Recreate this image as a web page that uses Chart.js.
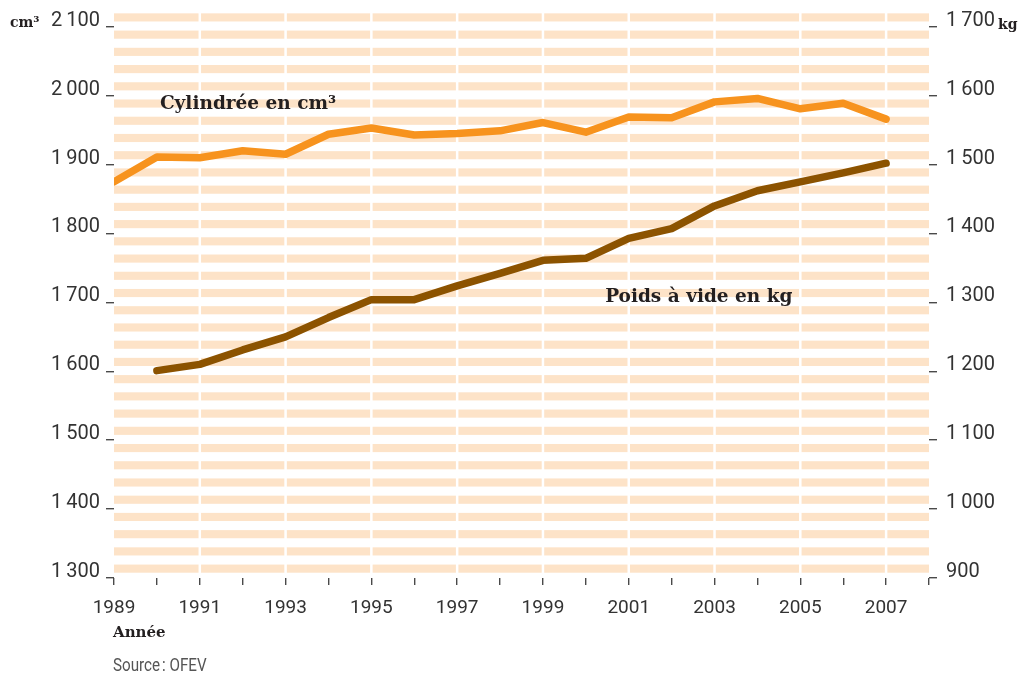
<!DOCTYPE html>
<html lang="fr">
<head>
<meta charset="utf-8">
<title>Cylindrée et poids à vide</title>
<script src="https://cdn.jsdelivr.net/npm/chart.js@4.4.1/dist/chart.umd.min.js"></script>
<style>
  html, body { margin: 0; padding: 0; background: #fff; }
  #wrap { width: 1021px; height: 675px; }
</style>
</head>
<body>
<div id="wrap"><canvas id="chart" width="1021" height="675"></canvas></div>
<script>
// Data
const years = [1989, 1990, 1991, 1992, 1993, 1994, 1995, 1996, 1997, 1998,
               1999, 2000, 2001, 2002, 2003, 2004, 2005, 2006, 2007];
const cylindree = [1875, 1911, 1910, 1920, 1915, 1944, 1953, 1943, 1945, 1949,
                   1961, 1947, 1969, 1968, 1991, 1996, 1981, 1989, 1966];
const poidsYears = [1990, 1991, 1992, 1993, 1994, 1995, 1996, 1997, 1998,
                    1999, 2000, 2001, 2002, 2003, 2004, 2005, 2006, 2007];
const poids = [1201, 1210, 1231, 1250, 1278, 1304, 1304, 1324, 1342,
               1361, 1364, 1393, 1407, 1440, 1462, 1475, 1488, 1502];
const leftTicks = [1300, 1400, 1500, 1600, 1700, 1800, 1900, 2000, 2100];
const rightTicks = [900, 1000, 1100, 1200, 1300, 1400, 1500, 1600, 1700];
const yearLabels = [1989, 1991, 1993, 1995, 1997, 1999, 2001, 2003, 2005, 2007];

const ORANGE = "#F7931E";
const BROWN = "#8C5300";
const STRIPE = "#FDE3C8";
const TEXT = "#333333";
const TICK = "#4a4a4a";
const SERIF = "'DejaVu Serif', serif";
const SANS = "Roboto, 'Liberation Sans', sans-serif";

// 2 100 style numbers
function fmt(v) {
  const s = String(v);
  return s.length > 3 ? s.slice(0, -3) + "\u2009" + s.slice(-3) : s;
}

// keep the plot area where we put it, no auto padding from labels
function noPad(s) {
  s.paddingTop = 0;
  s.paddingBottom = 0;
  s.paddingLeft = 0;
  s.paddingRight = 0;
}

// peach bands behind the plot, 4 per 100 units, plus white column gaps
const bandsPlugin = {
  id: "bands",
  beforeDatasetsDraw(chart) {
    const { ctx, chartArea: a, scales } = chart;
    const y = scales.yL;
    const x = scales.x;
    ctx.save();
    ctx.fillStyle = STRIPE;
    for (let k = 0; k <= 32; k++) {
      const top = 2119.5 - 25 * k;
      const y0 = y.getPixelForValue(top);
      const y1 = y.getPixelForValue(top - 11.8);
      ctx.fillRect(a.left, y0, a.right - a.left, y1 - y0);
    }
    ctx.fillStyle = "#ffffff";
    yearLabels.forEach((yr) => {
      if (yr === 1989) return;
      const px = x.getPixelForValue(yr);
      ctx.fillRect(px - 1.25, a.top, 2.5, a.bottom - a.top);
    });
    ctx.restore();
  },
};

// texts that are not axis labels
const textPlugin = {
  id: "texts",
  afterDraw(chart) {
    const { ctx, scales } = chart;
    ctx.save();
    ctx.fillStyle = "#231F20";
    ctx.textBaseline = "middle";
    ctx.textAlign = "left";

    ctx.font = "bold 18.5px " + SERIF;
    ctx.fillText("Cylindrée en cm³", scales.x.getPixelForValue(1990.07),
      scales.yL.getPixelForValue(1988));
    ctx.fillText("Poids à vide en kg", scales.x.getPixelForValue(2000.45),
      scales.yR.getPixelForValue(1308));

    ctx.font = "bold 14px " + SERIF;
    ctx.fillText("cm³", 10, 23);
    ctx.fillText("kg", 998, 25);
    ctx.font = "bold 15px " + SERIF;
    ctx.fillText("Année", 113, 633);

    // condensed source line
    ctx.font = "19px " + SANS;
    ctx.fillStyle = "#555555";
    ctx.translate(113, 666);
    ctx.scale(0.8, 1);
    ctx.fillText("Source\u202F: OFEV", 0, 0);
    ctx.restore();
  },
};

const tickGrid = {
  display: true,
  drawOnChartArea: false,
  drawTicks: true,
  color: TICK,
  lineWidth: 1.4,
};

const ctx = document.getElementById("chart").getContext("2d");
new Chart(ctx, {
  type: "line",
  data: {
    datasets: [
      {
        label: "Cylindrée en cm³",
        data: years.map((yr, i) => ({ x: yr, y: cylindree[i] })),
        yAxisID: "yL",
        borderColor: ORANGE,
        borderWidth: 7.5,
        borderCapStyle: "round",
        borderJoinStyle: "round",
        pointRadius: 0,
        tension: 0,
      },
      {
        label: "Poids à vide en kg",
        data: poidsYears.map((yr, i) => ({ x: yr, y: poids[i] })),
        yAxisID: "yR",
        borderColor: BROWN,
        borderWidth: 7.5,
        borderCapStyle: "round",
        borderJoinStyle: "round",
        pointRadius: 0,
        tension: 0,
      },
    ],
  },
  options: {
    responsive: false,
    animation: false,
    layout: { autoPadding: false, padding: { top: 13, left: 0, right: 0, bottom: 0 } },
    plugins: {
      legend: { display: false },
      tooltip: { enabled: false },
    },
    scales: {
      x: {
        type: "linear",
        min: 1989,
        max: 2008,
        border: { display: false },
        grid: { ...tickGrid, tickLength: 7 },
        afterBuildTicks: (s) => {
          s.ticks = years.concat([2008]).map((v) => ({ value: v }));
        },
        afterFit: (s) => { s.height = 97; noPad(s); },
        ticks: {
          autoSkip: false,
          maxRotation: 0,
          padding: 12,
          color: TEXT,
          font: { family: SANS, size: 19 },
          callback: (v) => (yearLabels.includes(v) ? String(v) : ""),
        },
      },
      yL: {
        type: "linear",
        position: "left",
        min: 1300,
        max: 2120,
        border: { display: false },
        grid: { ...tickGrid, tickLength: 8 },
        afterBuildTicks: (s) => { s.ticks = leftTicks.map((v) => ({ value: v })); },
        afterFit: (s) => { s.width = 114; noPad(s); },
        ticks: {
          padding: 6,
          labelOffset: -6,
          color: TEXT,
          font: { family: SANS, size: 20 },
          callback: (v) => fmt(v),
        },
      },
      yR: {
        type: "linear",
        position: "right",
        min: 900,
        max: 1720,
        border: { display: false },
        grid: { ...tickGrid, tickLength: 8 },
        afterBuildTicks: (s) => { s.ticks = rightTicks.map((v) => ({ value: v })); },
        afterFit: (s) => { s.width = 92; noPad(s); },
        ticks: {
          padding: 9,
          labelOffset: -6,
          color: TEXT,
          font: { family: SANS, size: 20 },
          callback: (v) => fmt(v),
        },
      },
    },
  },
  plugins: [bandsPlugin, textPlugin],
});
</script>
</body>
</html>
